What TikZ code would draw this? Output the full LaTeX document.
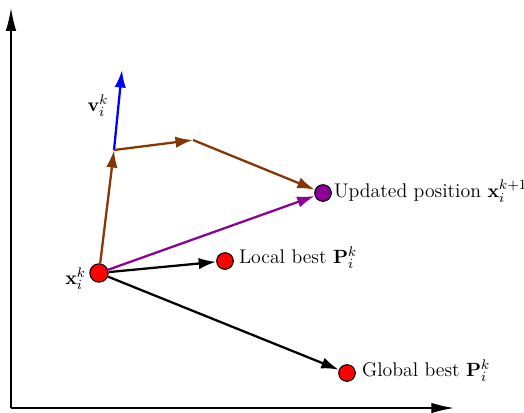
\documentclass[tikz,border=0pt]{standalone}
\usetikzlibrary{arrows.meta}
\definecolor{brn}{RGB}{130,55,5}
\definecolor{purp}{RGB}{140,0,150}
\begin{document}
\begin{tikzpicture}[x=0.5714pt,y=-0.5714pt,
  dot/.style={circle,draw=black,line width=0.6pt,inner sep=0pt,minimum size=9.5pt},
  vec/.style={line width=1.3pt,-{Latex[length=10pt,width=6.5pt]}},
  axis/.style={line width=0.8pt,-{Latex[length=13pt,width=6pt]}},
  lbl/.style={inner sep=1pt,font=\fontsize{11.3}{14}\selectfont}]
\useasboundingbox (0,0) rectangle (524,412);
\coordinate (o) at (11,408);
\coordinate (ytop) at (11,8);
\coordinate (xend) at (454,408);
\draw[axis] (o) -- (ytop);
\draw[axis] (o) -- (xend);
\node[dot,fill=red,minimum size=10.5pt] (x) at (99,273) {};
\node[dot,fill=red] (lb) at (225,261) {};
\node[dot,fill=red] (gb) at (347,373) {};
\node[dot,fill=purp] (up) at (323,193) {};
\coordinate (v0) at (114,150);
\coordinate (vt) at (122,70);
\coordinate (c1) at (193,140);
\draw[vec,blue] (v0) -- (vt);
\draw[vec,brn] (x) -- (v0);
\draw[vec,brn] (v0) -- (c1);
\draw[vec,brn] (c1) -- (up);
\draw[vec,purp] (x) -- (up);
\draw[vec,black] (x) -- (lb);
\draw[vec,black] (x) -- (gb);
\node[lbl,anchor=east] (xl) at (88,279) {$\mathbf{x}_i^k$};
\node[lbl] (vl) at (98,106) {$\mathbf{v}_i^k$};
\node[lbl,anchor=west] (lbl1) at (237,258) {Local best $\mathbf{P}_i^k$};
\node[lbl,anchor=west] (upl) at (332,191) {Updated position $\mathbf{x}_i^{k+1}$};
\node[lbl,anchor=west] (gbl) at (360,371) {Global best $\mathbf{P}_i^k$};
\end{tikzpicture}
\end{document}
